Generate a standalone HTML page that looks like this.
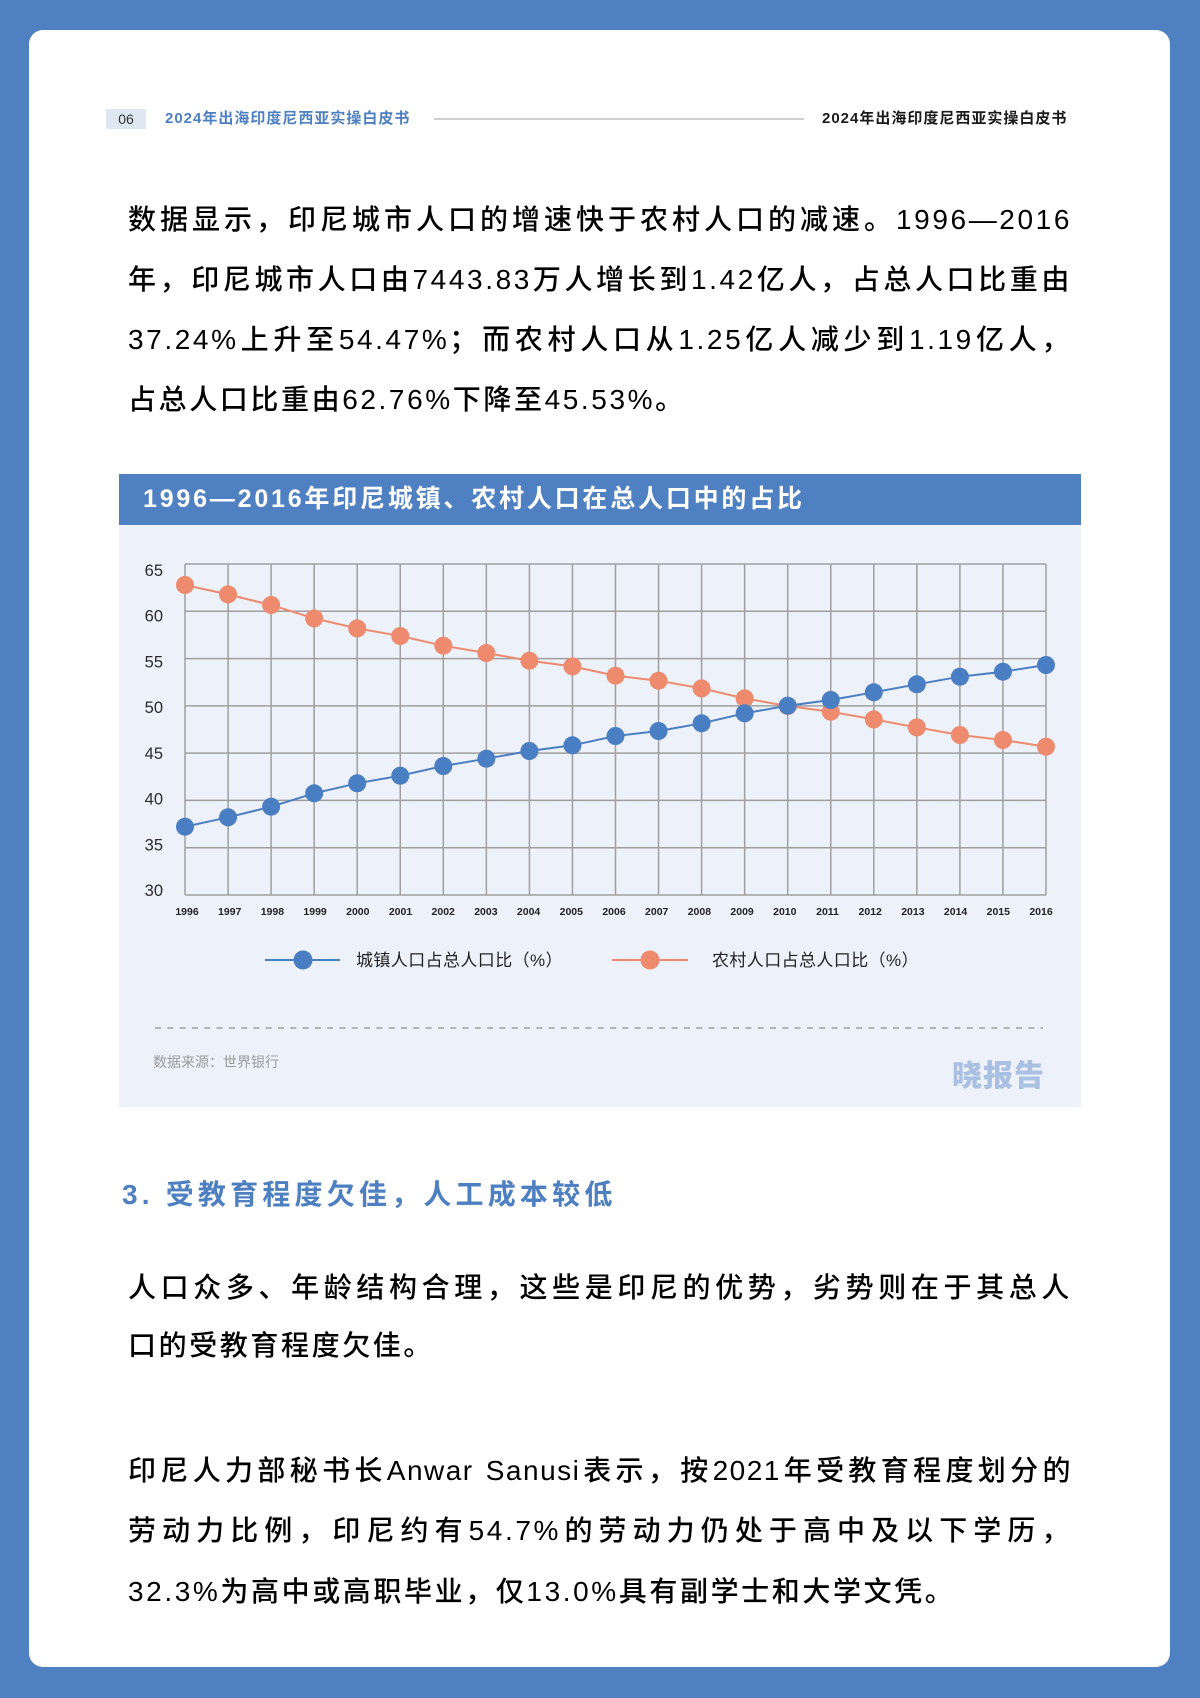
<!DOCTYPE html>
<html>
<head>
<meta charset="utf-8">
<style>
  html, body { margin:0; padding:0; }
  body { width:1200px; height:1698px; background:#4f80c1; position:relative; overflow:hidden;
         font-family:"Liberation Sans","Noto Sans CJK SC",sans-serif; }
  .card { position:absolute; left:29px; top:30px; width:1141px; height:1637px; background:#fff; border-radius:14px; }
  .abs { position:absolute; white-space:nowrap; }
  .pl { position:absolute; left:128px; width:944px; font-size:28px; line-height:60px; height:60px; color:#000; letter-spacing:2.6px; font-weight:500; }
  .j { text-align:justify; text-align-last:justify; }
  .l { text-align:left; white-space:nowrap; }
</style>
</head>
<body>
<div class="card"></div>

<!-- header -->
<div class="abs" style="left:106px;top:109px;width:40px;height:20px;background:#dfe7f3;color:#333;font-size:14px;line-height:20px;text-align:center;">06</div>
<div class="abs" style="left:165px;top:108px;font-size:15px;line-height:22px;font-weight:bold;color:#4e80c1;letter-spacing:1px;">2024年出海印度尼西亚实操白皮书</div>
<div class="abs" style="left:434px;top:118px;width:370px;height:2px;background:#cfcfcf;"></div>
<div class="abs" style="left:822px;top:108px;font-size:15px;line-height:22px;font-weight:bold;color:#1a1a1a;letter-spacing:1px;">2024年出海印度尼西亚实操白皮书</div>

<!-- paragraph 1 -->
<div class="pl j" style="top:190px;">数据显示，印尼城市人口的增速快于农村人口的减速。1996—2016</div>
<div class="pl j" style="top:250px;">年，印尼城市人口由7443.83万人增长到1.42亿人，占总人口比重由</div>
<div class="pl j" style="top:310px;">37.24%上升至54.47%；而农村人口从1.25亿人减少到1.19亿人，</div>
<div class="pl l" style="top:370px;">占总人口比重由62.76%下降至45.53%。</div>

<!-- chart panel -->
<div class="abs" style="left:119px;top:474px;width:962px;height:51px;background:#4f80c1;"></div>
<div class="abs" style="left:143px;top:483px;font-size:25px;line-height:32px;font-weight:bold;color:#fff;letter-spacing:2.8px;">1996—2016年印尼城镇、农村人口在总人口中的占比</div>
<div class="abs" style="left:119px;top:525px;width:962px;height:582px;background:#edf1f9;"></div>

<svg class="abs" style="left:0;top:0;" width="1200" height="1698" viewBox="0 0 1200 1698" xmlns="http://www.w3.org/2000/svg">
  <g stroke="#9f9f9f" stroke-width="1.5" fill="none">
    <line x1="185" y1="564" x2="1046" y2="564"/>
    <line x1="185" y1="611.3" x2="1046" y2="611.3"/>
    <line x1="185" y1="658.6" x2="1046" y2="658.6"/>
    <line x1="185" y1="705.9" x2="1046" y2="705.9"/>
    <line x1="185" y1="753.1" x2="1046" y2="753.1"/>
    <line x1="185" y1="800.4" x2="1046" y2="800.4"/>
    <line x1="185" y1="847.7" x2="1046" y2="847.7"/>
    <line x1="185" y1="895" x2="1046" y2="895"/>
    <line x1="185" y1="564" x2="185" y2="895"/>
    <line x1="228.05" y1="564" x2="228.05" y2="895"/>
    <line x1="271.1" y1="564" x2="271.1" y2="895"/>
    <line x1="314.15" y1="564" x2="314.15" y2="895"/>
    <line x1="357.2" y1="564" x2="357.2" y2="895"/>
    <line x1="400.25" y1="564" x2="400.25" y2="895"/>
    <line x1="443.3" y1="564" x2="443.3" y2="895"/>
    <line x1="486.35" y1="564" x2="486.35" y2="895"/>
    <line x1="529.4" y1="564" x2="529.4" y2="895"/>
    <line x1="572.45" y1="564" x2="572.45" y2="895"/>
    <line x1="615.5" y1="564" x2="615.5" y2="895"/>
    <line x1="658.55" y1="564" x2="658.55" y2="895"/>
    <line x1="701.6" y1="564" x2="701.6" y2="895"/>
    <line x1="744.65" y1="564" x2="744.65" y2="895"/>
    <line x1="787.7" y1="564" x2="787.7" y2="895"/>
    <line x1="830.75" y1="564" x2="830.75" y2="895"/>
    <line x1="873.8" y1="564" x2="873.8" y2="895"/>
    <line x1="916.85" y1="564" x2="916.85" y2="895"/>
    <line x1="959.9" y1="564" x2="959.9" y2="895"/>
    <line x1="1002.95" y1="564" x2="1002.95" y2="895"/>
    <line x1="1046" y1="564" x2="1046" y2="895"/>
  </g>

  <g font-family="Liberation Sans, sans-serif" font-size="16.5" fill="#2a2a2a" text-anchor="end">
    <text x="163" y="576">65</text>
    <text x="163" y="621.7">60</text>
    <text x="163" y="667.4">55</text>
    <text x="163" y="713.1">50</text>
    <text x="163" y="758.9">45</text>
    <text x="163" y="804.6">40</text>
    <text x="163" y="850.3">35</text>
    <text x="163" y="896">30</text>
  </g>

  <g font-family="Liberation Sans, sans-serif" font-size="10.5" font-weight="bold" fill="#222" text-anchor="middle">
    <text x="187" y="915">1996</text>
    <text x="229.7" y="915">1997</text>
    <text x="272.4" y="915">1998</text>
    <text x="315.1" y="915">1999</text>
    <text x="357.8" y="915">2000</text>
    <text x="400.5" y="915">2001</text>
    <text x="443.2" y="915">2002</text>
    <text x="485.9" y="915">2003</text>
    <text x="528.6" y="915">2004</text>
    <text x="571.3" y="915">2005</text>
    <text x="614" y="915">2006</text>
    <text x="656.7" y="915">2007</text>
    <text x="699.4" y="915">2008</text>
    <text x="742.1" y="915">2009</text>
    <text x="784.8" y="915">2010</text>
    <text x="827.5" y="915">2011</text>
    <text x="870.2" y="915">2012</text>
    <text x="912.9" y="915">2013</text>
    <text x="955.6" y="915">2014</text>
    <text x="998.3" y="915">2015</text>
    <text x="1041" y="915">2016</text>
  </g>

  <!-- rural (orange) -->
  <polyline fill="none" stroke="#ee8a6e" stroke-width="2" points="185,585.0 228.05,594.4 271.1,605.0 314.15,618.4 357.2,628.4 400.25,636.0 443.3,645.7 486.35,653.0 529.4,660.7 572.45,666.4 615.5,675.7 658.55,680.7 701.6,688.4 744.65,698.4 787.7,706.0 830.75,711.7 873.8,719.4 916.85,727.4 959.9,735.0 1002.95,740.0 1046,746.7"/>
  <g fill="#ee8a6e">
    <circle cx="185" cy="585.0" r="9"/>
    <circle cx="228.05" cy="594.4" r="9"/>
    <circle cx="271.1" cy="605.0" r="9"/>
    <circle cx="314.15" cy="618.4" r="9"/>
    <circle cx="357.2" cy="628.4" r="9"/>
    <circle cx="400.25" cy="636.0" r="9"/>
    <circle cx="443.3" cy="645.7" r="9"/>
    <circle cx="486.35" cy="653.0" r="9"/>
    <circle cx="529.4" cy="660.7" r="9"/>
    <circle cx="572.45" cy="666.4" r="9"/>
    <circle cx="615.5" cy="675.7" r="9"/>
    <circle cx="658.55" cy="680.7" r="9"/>
    <circle cx="701.6" cy="688.4" r="9"/>
    <circle cx="744.65" cy="698.4" r="9"/>
    <circle cx="787.7" cy="706.0" r="9"/>
    <circle cx="830.75" cy="711.7" r="9"/>
    <circle cx="873.8" cy="719.4" r="9"/>
    <circle cx="916.85" cy="727.4" r="9"/>
    <circle cx="959.9" cy="735.0" r="9"/>
    <circle cx="1002.95" cy="740.0" r="9"/>
    <circle cx="1046" cy="746.7" r="9"/>
  </g>

  <!-- urban (blue) -->
  <polyline fill="none" stroke="#4a7ec2" stroke-width="2" points="185,826.7 228.05,817.3 271.1,806.7 314.15,793.3 357.2,783.3 400.25,775.7 443.3,766 486.35,758.7 529.4,751 572.45,745.3 615.5,736 658.55,731 701.6,723.3 744.65,713.3 787.7,705.7 830.75,700 873.8,692.3 916.85,684.3 959.9,676.7 1002.95,671.7 1046,665"/>
  <g fill="#4a7ec2">
    <circle cx="185" cy="826.7" r="9"/>
    <circle cx="228.05" cy="817.3" r="9"/>
    <circle cx="271.1" cy="806.7" r="9"/>
    <circle cx="314.15" cy="793.3" r="9"/>
    <circle cx="357.2" cy="783.3" r="9"/>
    <circle cx="400.25" cy="775.7" r="9"/>
    <circle cx="443.3" cy="766" r="9"/>
    <circle cx="486.35" cy="758.7" r="9"/>
    <circle cx="529.4" cy="751" r="9"/>
    <circle cx="572.45" cy="745.3" r="9"/>
    <circle cx="615.5" cy="736" r="9"/>
    <circle cx="658.55" cy="731" r="9"/>
    <circle cx="701.6" cy="723.3" r="9"/>
    <circle cx="744.65" cy="713.3" r="9"/>
    <circle cx="787.7" cy="705.7" r="9"/>
    <circle cx="830.75" cy="700" r="9"/>
    <circle cx="873.8" cy="692.3" r="9"/>
    <circle cx="916.85" cy="684.3" r="9"/>
    <circle cx="959.9" cy="676.7" r="9"/>
    <circle cx="1002.95" cy="671.7" r="9"/>
    <circle cx="1046" cy="665" r="9"/>
  </g>

  <!-- legend -->
  <line x1="265" y1="960" x2="340" y2="960" stroke="#4a7ec2" stroke-width="2"/>
  <circle cx="303" cy="960" r="9.5" fill="#4a7ec2"/>
  <line x1="612" y1="960" x2="688" y2="960" stroke="#ee8a6e" stroke-width="2"/>
  <circle cx="650" cy="960" r="9.5" fill="#ee8a6e"/>
  <g font-family="Liberation Sans, Noto Sans CJK SC, sans-serif" font-size="17" fill="#222" letter-spacing="0.4">
    <text x="356" y="966">城镇人口占总人口比（%）</text>
    <text x="712" y="966">农村人口占总人口比（%）</text>
  </g>

  <line x1="155" y1="1028" x2="1043" y2="1028" stroke="#b3b3b3" stroke-width="2" stroke-dasharray="6 6.3"/>
</svg>

<div class="abs" style="left:153px;top:1052px;font-size:14px;line-height:20px;color:#9a9a9a;">数据来源：世界银行</div>
<div class="abs" style="left:952px;top:1060px;font-size:30px;line-height:34px;font-weight:900;color:#a9c0e2;letter-spacing:1px;">晓报告</div>

<!-- section heading -->
<div class="abs" style="left:122px;top:1165px;font-size:28px;line-height:60px;font-weight:bold;color:#4e80c1;letter-spacing:4.2px;">3. 受教育程度欠佳，人工成本较低</div>

<!-- paragraph 2 -->
<div class="pl j" style="top:1258px;">人口众多、年龄结构合理，这些是印尼的优势，劣势则在于其总人</div>
<div class="pl l" style="top:1316px;">口的受教育程度欠佳。</div>

<!-- paragraph 3 -->
<div class="pl j" style="top:1441px;letter-spacing:1.5px;">印尼人力部秘书长Anwar Sanusi表示，按2021年受教育程度划分的</div>
<div class="pl j" style="top:1501px;">劳动力比例，印尼约有54.7%的劳动力仍处于高中及以下学历，</div>
<div class="pl l" style="top:1562px;">32.3%为高中或高职毕业，仅13.0%具有副学士和大学文凭。</div>

</body>
</html>
